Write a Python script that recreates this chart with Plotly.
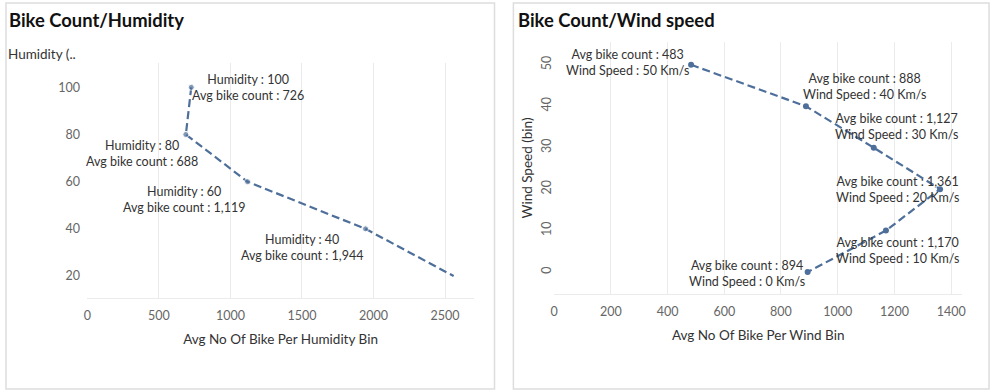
import plotly.graph_objects as go

# ---- data ----
hum_bins = [100, 80, 60, 40, 20]
hum_avg = [726, 688, 1119, 1944, 2560]
hum_labeled = [True, True, True, True, False]

wind_bins = [50, 40, 30, 20, 10, 0]
wind_avg = [483, 888, 1127, 1361, 1170, 894]

hum_xticks = [0, 500, 1000, 1500, 2000, 2500]
hum_yticks = [20, 40, 60, 80, 100]
wind_xticks = [0, 200, 400, 600, 800, 1000, 1200, 1400]
wind_yticks = [0, 10, 20, 30, 40, 50]

# ---- style ----
FONT = "Lato"
LINE = "#4e6f9a"
TXT = "#333333"
TICK = "#666666"
GRID = "#ebebeb"

hum_shift = [(57, 0), (-44, -19), (-63, -18), (-64, -19)]
wind_shift = [(-64, 2), (59, 20), (23, 21), (-43, 0), (12, -20), (-61, -1)]

fig = go.Figure()

fig.add_trace(go.Scatter(
    x=hum_avg, y=hum_bins, mode="lines+markers",
    line=dict(color=LINE, width=2.2, dash="8px,4px"),
    marker=dict(size=[6 if l else 0 for l in hum_labeled], color=LINE),
    xaxis="x", yaxis="y", showlegend=False, hoverinfo="skip"))

fig.add_trace(go.Scatter(
    x=wind_avg, y=wind_bins, mode="lines+markers",
    line=dict(color=LINE, width=2.2, dash="8px,4px"),
    marker=dict(size=6, color=LINE),
    xaxis="x2", yaxis="y2", showlegend=False, hoverinfo="skip"))

annotations = []
i = 0
for h, a, lab in zip(hum_bins, hum_avg, hum_labeled):
    if not lab:
        continue
    dx, dy = hum_shift[i]
    i += 1
    annotations.append(dict(
        x=a, y=h, xref="x", yref="y",
        text=f"Humidity : {h}<br>Avg bike count : {a:,}",
        showarrow=False, xshift=dx, yshift=dy, align="center",
        font=dict(family=FONT, size=12.5, color=TXT)))
for k, (w, a) in enumerate(zip(wind_bins, wind_avg)):
    dx, dy = wind_shift[k]
    annotations.append(dict(
        x=a, y=w, xref="x2", yref="y2",
        text=f"Avg bike count : {a:,}<br>Wind Speed : {w} Km/s",
        showarrow=False, xshift=dx, yshift=dy, align="center",
        font=dict(family=FONT, size=12.5, color=TXT)))

# titles
annotations.append(dict(x=3/995, y=1-20/392, xref="paper", yref="paper",
                        xanchor="left", yanchor="middle", showarrow=False,
                        text="<b>Bike Count/Humidity</b>",
                        font=dict(family=FONT, size=18.4, color="#111111")))
annotations.append(dict(x=516/995, y=1-20/392, xref="paper", yref="paper",
                        xanchor="left", yanchor="middle", showarrow=False,
                        text="<b>Bike Count/Wind speed</b>",
                        font=dict(family=FONT, size=18.4, color="#111111")))
annotations.append(dict(x=2/995, y=1-54/392, xref="paper", yref="paper",
                        xanchor="left", yanchor="middle", showarrow=False,
                        text="Humidity (..",
                        font=dict(family=FONT, size=13.5, color=TXT)))
fig.update_layout(annotations=annotations)

shapes = [
    dict(type="rect", xref="paper", yref="paper",
         x0=2/995, x1=494/995, y0=1-389/392, y1=1-3/392,
         line=dict(color="#dddddd", width=1.5)),
    dict(type="rect", xref="paper", yref="paper",
         x0=513/995, x1=992/995, y0=1-389/392, y1=1-3/392,
         line=dict(color="#dddddd", width=1.5)),
]

axis_common = dict(showgrid=True, gridcolor=GRID, gridwidth=1, zeroline=False,
                   tickfont=dict(family=FONT, size=12.5, color=TICK))

fig.update_layout(
    width=995, height=392,
    margin=dict(l=0, r=0, t=0, b=0),
    paper_bgcolor="white", plot_bgcolor="white",
    shapes=shapes,
    xaxis=dict(domain=[84/995, 473/995], range=[0, 2700],
               tickvals=hum_xticks, anchor="y",
               showline=True, linecolor=GRID, ticks="outside", ticklen=6,
               tickcolor="rgba(0,0,0,0)",
               title=dict(text="Avg No Of Bike Per Humidity Bin", standoff=12,
                          font=dict(family=FONT, size=13.5, color=TXT)),
               **axis_common),
    yaxis=dict(domain=[1-298/392, 1-63/392], range=[10.7, 110.3],
               tickvals=hum_yticks, anchor="x", showgrid=False, zeroline=False,
               ticks="outside", ticklen=4, tickcolor="rgba(0,0,0,0)",
               tickfont=dict(family=FONT, size=12.5, color=TICK)),
    xaxis2=dict(domain=[554/995, 965/995], range=[0, 1439],
                tickvals=wind_xticks, anchor="y2",
                showline=True, linecolor=GRID, ticks="outside", ticklen=6,
                tickcolor="rgba(0,0,0,0)",
                title=dict(text="Avg No Of Bike Per Wind Bin", standoff=12,
                           font=dict(family=FONT, size=13.5, color=TXT)),
                **axis_common),
    yaxis2=dict(domain=[1-294/392, 1-42/392], range=[-5.3, 55.5],
                tickvals=wind_yticks, anchor="x2", showgrid=False, zeroline=False,
                tickangle=-90, ticks="",
                tickfont=dict(family=FONT, size=12.5, color=TICK),
                title=dict(text="Wind Speed (bin)", standoff=2,
                           font=dict(family=FONT, size=13.5, color=TXT))),
)

fig.write_html("out.html", config={"displayModeBar": False},
               post_script="document.body.style.margin='0';document.body.style.overflow='hidden';")
